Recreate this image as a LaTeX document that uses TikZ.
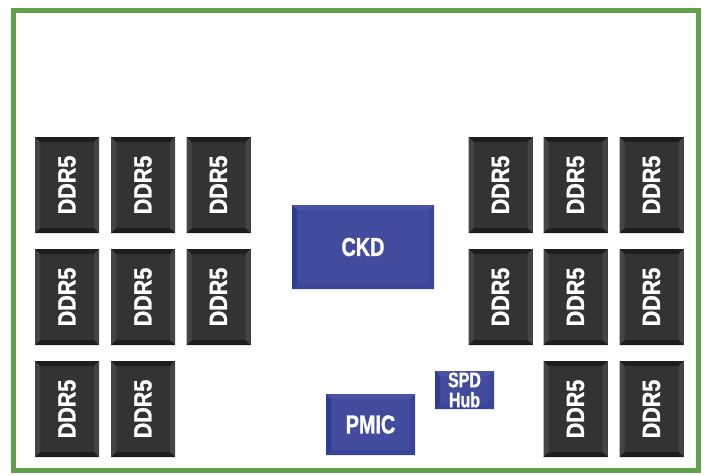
\documentclass[tikz,border=0pt]{standalone}
\usepackage{fontspec}
\newfontfamily\chipfont[FakeStretch=0.86, FakeBold=1.2]{Liberation Sans}
\newfontfamily\boxfont[FakeStretch=0.76, FakeBold=1.2]{Liberation Sans}

\definecolor{boardgreen}{RGB}{96,162,74}
\definecolor{chipface}{RGB}{51,51,51}
\definecolor{chipdark}{RGB}{30,30,30}
\definecolor{chipside}{RGB}{68,68,70}
\definecolor{blueface}{RGB}{66,75,158}
\definecolor{bluelight}{RGB}{74,82,164}
\definecolor{bluedark}{RGB}{47,60,149}
\definecolor{blueshade}{RGB}{58,69,153}

\tikzset{
  bevel/.style n args={4}{path picture={
      \fill[#1] (path picture bounding box.north west) -- (path picture bounding box.north east)
        -- ([shift={(-5pt,-5pt)}]path picture bounding box.north east) -- ([shift={(5pt,-5pt)}]path picture bounding box.north west) -- cycle;
      \fill[#2] (path picture bounding box.north east) -- (path picture bounding box.south east)
        -- ([shift={(-5pt,5pt)}]path picture bounding box.south east) -- ([shift={(-5pt,-5pt)}]path picture bounding box.north east) -- cycle;
      \fill[#3] (path picture bounding box.south east) -- (path picture bounding box.south west)
        -- ([shift={(5pt,5pt)}]path picture bounding box.south west) -- ([shift={(-5pt,5pt)}]path picture bounding box.south east) -- cycle;
      \fill[#4] (path picture bounding box.south west) -- (path picture bounding box.north west)
        -- ([shift={(5pt,-5pt)}]path picture bounding box.north west) -- ([shift={(5pt,5pt)}]path picture bounding box.south west) -- cycle;
  }},
  ddr/.style={rectangle, fill=chipface, inner sep=0pt, minimum width=64pt, minimum height=96pt,
    text=white, font=\chipfont\bfseries\fontsize{25}{25}\selectfont,
    bevel={chipdark}{chipside}{chipdark}{chipside}},
  blk/.style={rectangle, fill=blueface, inner sep=0pt, text=white, align=center,
    font=\boxfont\bfseries\fontsize{26}{26}\selectfont,
    bevel={bluelight}{blueshade}{blueshade}{bluedark}}
}

\newcommand{\ddrtext}{\rotatebox{90}{DDR5}}

\begin{document}
\begin{tikzpicture}[x=1pt, y=-1pt]
    \useasboundingbox (0,0) rectangle (706,474);
    \draw[boardgreen, line width=5pt] (13,10) rectangle (698.5,470.5);

    % left bank
    \node[ddr] (l11) at (67,185) {\ddrtext};
    \node[ddr] (l12) at (143,185) {\ddrtext};
    \node[ddr] (l13) at (218.5,185) {\ddrtext};
    \node[ddr] (l21) at (67,297) {\ddrtext};
    \node[ddr] (l22) at (143,297) {\ddrtext};
    \node[ddr] (l23) at (218.5,297) {\ddrtext};
    \node[ddr] (l31) at (67,409) {\ddrtext};
    \node[ddr] (l32) at (143,409) {\ddrtext};

    % right bank
    \node[ddr] (r11) at (500.5,185) {\ddrtext};
    \node[ddr] (r12) at (575.5,185) {\ddrtext};
    \node[ddr] (r13) at (651.5,185) {\ddrtext};
    \node[ddr] (r21) at (500.5,297) {\ddrtext};
    \node[ddr] (r22) at (575.5,297) {\ddrtext};
    \node[ddr] (r23) at (651.5,297) {\ddrtext};
    \node[ddr] (r32) at (575.5,409) {\ddrtext};
    \node[ddr] (r33) at (651.5,409) {\ddrtext};

    % buffer, power and hub
    \node[blk, minimum width=142pt, minimum height=84pt] (ckd) at (363,247) {CKD};
    \node[blk, minimum width=89pt, minimum height=61pt] (pmic) at (370.5,424.5) {PMIC};
    \node[blk, minimum width=59pt, minimum height=38pt, font=\boxfont\bfseries\fontsize{21}{20}\selectfont] (spd) at (464.5,390) {SPD\\Hub};
\end{tikzpicture}
\end{document}
